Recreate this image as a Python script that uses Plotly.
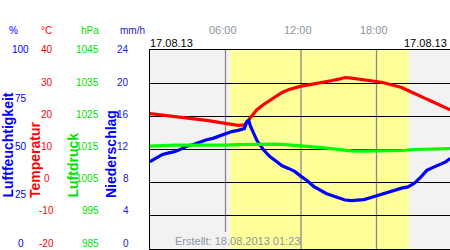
import pandas as pd
import plotly.graph_objects as go

DAY = "2013-08-17"

# ---- data (hours since midnight) ----
temp_hours = [0, 0.5, 1, 1.5, 2, 2.5, 3, 3.5, 4, 4.5, 5, 5.5, 6, 6.5, 7, 7.5, 7.8, 8,
              8.5, 9, 9.5, 10, 10.5, 11, 11.5, 12, 12.5, 13, 13.5, 14, 14.5, 15, 15.5,
              16, 16.5, 17, 17.5, 18, 18.5, 19, 19.5, 20, 20.5, 21, 21.5, 22, 22.5, 23,
              23.5, 23.85]
temp_values = [20.8, 20.6, 20.4, 20.1, 19.9, 19.8, 19.6, 19.4, 19.1, 18.8, 18.5, 18.2,
               17.8, 17.5, 17.3, 17.4, 18.8, 19.9, 22.0, 23.5, 24.7, 26.0, 27.2, 28.0,
               28.6, 29.1, 29.4, 29.7, 30.0, 30.4, 30.8, 31.2, 31.7, 31.5, 31.3, 31.0,
               30.7, 30.5, 30.2, 29.7, 29.2, 28.7, 27.8, 27.0, 26.1, 25.2, 24.3, 23.4,
               22.6, 22.0]

hum_hours = [0, 0.5, 1, 1.5, 2, 2.5, 3, 3.5, 4, 4.5, 5, 5.5, 6, 6.5, 7, 7.5, 7.7, 7.85,
             8, 8.5, 9, 9.5, 10, 10.5, 11, 11.5, 12, 12.5, 13, 13.5, 14, 14.5, 15, 15.5,
             16, 16.5, 17, 17.5, 18, 18.5, 19, 19.5, 20, 20.5, 21, 21.5, 22, 22.5, 23,
             23.5, 23.85]
hum_values = [43.9, 45.5, 47.5, 48.3, 49.0, 50.3, 51.8, 52.6, 53.9, 54.9, 55.6, 56.8,
              58.1, 59.0, 59.6, 60.5, 64.0, 64.5, 61.5, 54.5, 50.0, 46.6, 44.2, 41.8,
              40.5, 39.0, 36.5, 34.3, 31.5, 29.6, 27.9, 26.8, 25.9, 24.6, 24.3, 24.4,
              24.8, 25.8, 26.8, 27.8, 28.9, 29.6, 30.6, 31.2, 33.0, 36.0, 39.5, 41.0,
              42.6, 43.8, 45.5]

press_hours = [0, 1, 2, 3, 4, 5, 6, 7, 8, 9, 10, 11, 12, 13, 14, 15, 16, 17, 18, 19,
               20, 21, 22, 23, 23.85]
press_values = [1016.0, 1016.2, 1016.3, 1016.3, 1016.3, 1016.1, 1016.3, 1016.5, 1016.6,
                1016.6, 1016.6, 1016.4, 1016.2, 1015.8, 1015.4, 1014.9, 1014.6, 1014.5,
                1014.5, 1014.6, 1014.7, 1015.0, 1015.0, 1015.2, 1015.3]

# ---- axis tick labels ----
temp_ticks = [40, 30, 20, 10, 0, -10, -20]
press_ticks = ["1045", "1035", "1025", "1015", "1005", "995", "985"]
precip_ticks = ["24", "20", "16", "12", "8", "4", "0"]
hum_ticks = [100, 75, 50, 25, 0]
time_ticks = [6, 12, 18]
time_tick_text = ["06:00", "12:00", "18:00"]
grid_temps = [-10, 0, 10, 20, 30]
sunrise, sunset = "06:22", "20:35"
date_label = "17.08.13"
created_label = "Erstellt: 18.08.2013 01:23"

W, H = 450, 250
BLUE = "#0000ff"
BLUE2 = "#2020d0"
RED = "#ff0000"
GREEN = "#00e000"
GRAY = "#8a96a2"
FONT = "Arial, Liberation Sans, sans-serif"


def t(h):
    return pd.Timestamp(DAY) + pd.Timedelta(hours=h)


fig = go.Figure()
fig.add_trace(go.Scatter(x=[t(h) for h in hum_hours], y=hum_values, yaxis="y2",
                         mode="lines", line=dict(color="#0000ff", width=3.2),
                         hoverinfo="skip"))
fig.add_trace(go.Scatter(x=[t(h) for h in press_hours], y=press_values, yaxis="y3",
                         mode="lines", line=dict(color="#00ff00", width=3.2),
                         hoverinfo="skip"))
fig.add_trace(go.Scatter(x=[t(h) for h in temp_hours], y=temp_values, yaxis="y",
                         mode="lines", line=dict(color="#ff0000", width=3.2),
                         hoverinfo="skip"))

ann = []


def px(xp):
    return xp / W


def py(yp):
    return 1 - yp / H


# unit headers
for txt, xc, col in [("%", 13.5, BLUE), ("°C", 46.5, RED), ("hPa", 90, GREEN), ("mm/h", 132, BLUE2)]:
    ann.append(dict(text=txt, x=px(xc), y=py(30), xref="paper", yref="paper",
                    xanchor="center", yanchor="middle", showarrow=False,
                    font=dict(family=FONT, size=10, color=col)))

# tick labels on temperature rows
n = len(temp_ticks)
for i, v in enumerate(temp_ticks):
    shift = 6.0 * i / (n - 1)
    ann.append(dict(text=str(v), x=px(46.5), y=v, xref="paper", yref="y",
                    xanchor="center", yanchor="middle", yshift=shift, showarrow=False,
                    font=dict(family=FONT, size=10, color=RED)))
    ann.append(dict(text=press_ticks[i], x=px(101), y=v, xref="paper", yref="y",
                    xanchor="right", yanchor="middle", yshift=shift, showarrow=False,
                    font=dict(family=FONT, size=10, color=GREEN)))
    ann.append(dict(text=precip_ticks[i], x=px(131), y=v, xref="paper", yref="y",
                    xanchor="right", yanchor="middle", yshift=shift, showarrow=False,
                    font=dict(family=FONT, size=10, color=BLUE2)))
for v in hum_ticks:
    shift = 6.0 * (100 - v) / 100
    ann.append(dict(text=str(v), x=px(20.5), y=v, xref="paper", yref="y2",
                    xanchor="center", yanchor="middle", yshift=shift, showarrow=False,
                    font=dict(family=FONT, size=10, color=BLUE)))

# rotated axis titles
for txt, xc, col in [("Luftfeuchtigkeit", 7, BLUE), ("Temperatur", 34.5, RED),
                     ("Luftdruck", 72, GREEN), ("Niederschlag", 111, BLUE)]:
    ann.append(dict(text="<b>%s</b>" % txt, textangle=-90, x=px(xc), y=py(200),
                    xref="paper", yref="paper", xanchor="center", yanchor="bottom",
                    showarrow=False, font=dict(family=FONT, size=14, color=col)))

# time labels
for h, txt in zip(time_ticks, time_tick_text):
    ann.append(dict(text=txt, x=t(h), y=py(30), xref="x", yref="paper", xshift=-3,
                    xanchor="center", yanchor="middle", showarrow=False,
                    font=dict(family=FONT, size=11, color=GRAY)))

ann.append(dict(text=date_label, x=px(148), y=py(43.5), xref="paper", yref="paper",
                xanchor="left", yanchor="middle", showarrow=False,
                font=dict(family=FONT, size=11, color="#000000")))
ann.append(dict(text=date_label, x=px(449), y=py(43.5), xref="paper", yref="paper",
                xanchor="right", yanchor="middle", showarrow=False,
                font=dict(family=FONT, size=11, color="#000000")))
ann.append(dict(text=created_label, x=px(173), y=py(240.5), xref="paper", yref="paper",
                xanchor="left", yanchor="middle", showarrow=False,
                font=dict(family=FONT, size=11, color=GRAY)))

shapes = [dict(type="rect", xref="x", yref="y domain",
               x0=pd.Timestamp(f"{DAY} {sunrise}"), x1=pd.Timestamp(f"{DAY} {sunset}"),
               y0=0, y1=1, fillcolor="#ffff99", line=dict(width=0), layer="below")]
# vertical time grid lines (the first one stops above the "Erstellt" note)
for h in time_ticks:
    shapes.append(dict(type="line", xref="x", yref="paper", x0=t(h), x1=t(h),
                       y0=py(232 if h == time_ticks[0] else 249), y1=py(50),
                       line=dict(color="#888888", width=1.3), layer="below"))

fig.update_layout(
    width=W, height=H,
    margin=dict(l=0, r=0, t=0, b=0),
    paper_bgcolor="white",
    plot_bgcolor="#f2f2f2",
    showlegend=False,
    annotations=ann,
    shapes=shapes,
    xaxis=dict(domain=[150 / W, 1], type="date",
               range=[t(0), t(23.84)],
               tickvals=[t(h) for h in time_ticks], showticklabels=False, ticks="",
               showgrid=False,
               showline=True, mirror=True, linecolor="black", linewidth=1.3,
               zeroline=False),
    yaxis=dict(domain=[py(249), py(50)], range=[-20, 40],
               tickvals=grid_temps, showticklabels=False, ticks="",
               showgrid=True, gridcolor="black", gridwidth=1.3,
               showline=True, linecolor="black", linewidth=1.3, zeroline=False),
    yaxis2=dict(overlaying="y", range=[0, 100], visible=False, showgrid=False),
    yaxis3=dict(overlaying="y", range=[985, 1045], visible=False, showgrid=False),
)

fig.write_html("out.html")
